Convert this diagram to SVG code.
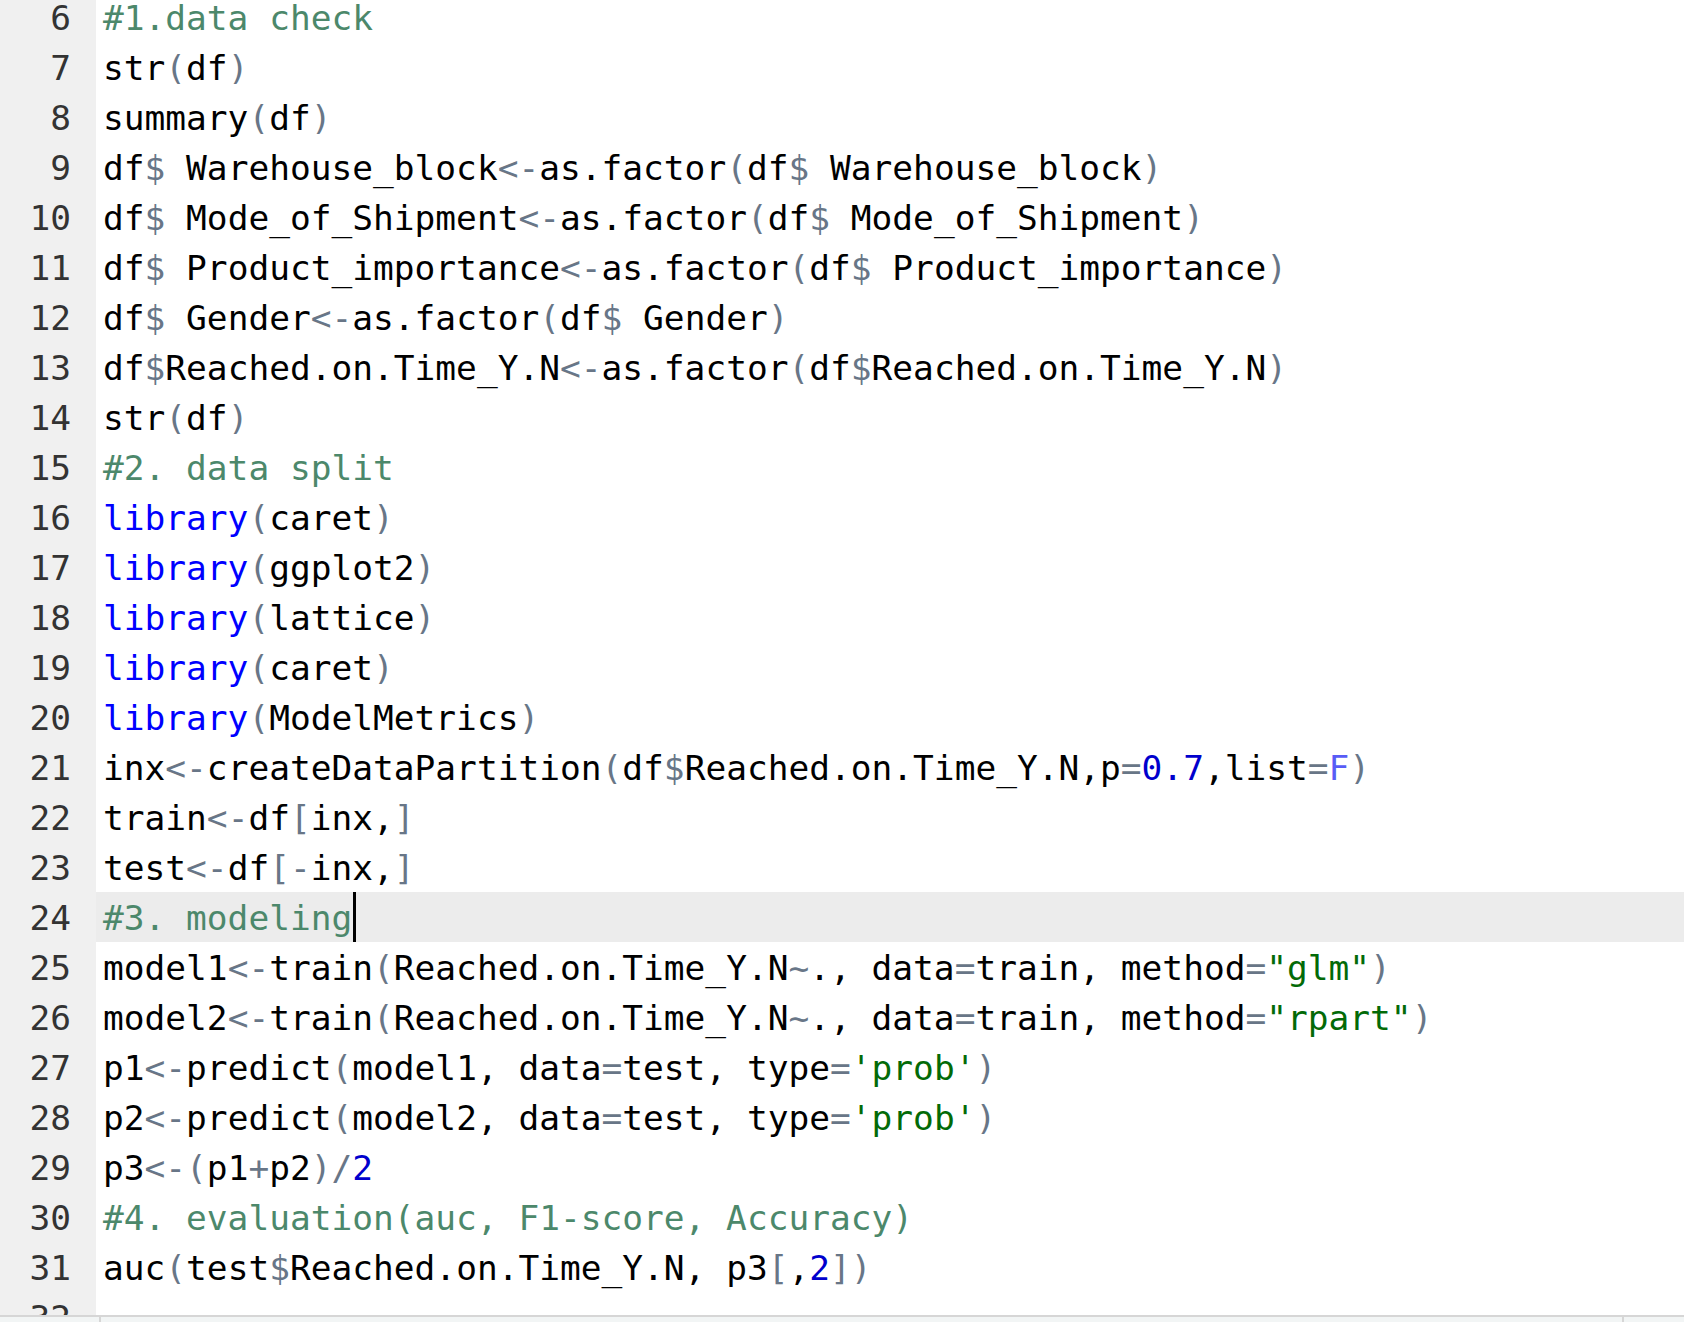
<svg xmlns="http://www.w3.org/2000/svg" width="1684" height="1322" viewBox="0 0 1684 1322">
<style>
text{font-family:"DejaVu Sans Mono","Liberation Mono",monospace;font-size:34.5px;fill:#000;white-space:pre}
.ln{fill:#333;text-anchor:end}
.o{fill:#687687}
.c{fill:#4c886b}
.k{fill:#0000ff}
.n{fill:#0000cd}
.s{fill:#036a07}
.f{fill:#585cf6}
</style>
<defs>
<clipPath id="clip"><rect x="0" y="0" width="1684" height="1315"/></clipPath>
</defs>
<rect x="0" y="0" width="1684" height="1322" fill="#ffffff"/>
<rect id="gutter" x="0" y="0" width="96" height="1315" fill="#f0f0f0"/>
<rect id="activeLine" x="96" y="892" width="1588" height="50" fill="#ececec"/>
<g id="lineNumbers" clip-path="url(#clip)">
<text class="ln" x="71" y="30">6</text>
<text class="ln" x="71" y="80">7</text>
<text class="ln" x="71" y="130">8</text>
<text class="ln" x="71" y="180">9</text>
<text class="ln" x="71" y="230">10</text>
<text class="ln" x="71" y="280">11</text>
<text class="ln" x="71" y="330">12</text>
<text class="ln" x="71" y="380">13</text>
<text class="ln" x="71" y="430">14</text>
<text class="ln" x="71" y="480">15</text>
<text class="ln" x="71" y="530">16</text>
<text class="ln" x="71" y="580">17</text>
<text class="ln" x="71" y="630">18</text>
<text class="ln" x="71" y="680">19</text>
<text class="ln" x="71" y="730">20</text>
<text class="ln" x="71" y="780">21</text>
<text class="ln" x="71" y="830">22</text>
<text class="ln" x="71" y="880">23</text>
<text class="ln" x="71" y="930">24</text>
<text class="ln" x="71" y="980">25</text>
<text class="ln" x="71" y="1030">26</text>
<text class="ln" x="71" y="1080">27</text>
<text class="ln" x="71" y="1130">28</text>
<text class="ln" x="71" y="1180">29</text>
<text class="ln" x="71" y="1230">30</text>
<text class="ln" x="71" y="1280">31</text>
<text class="ln" x="71" y="1330">32</text>
</g>
<g id="code" xml:space="preserve">
<text x="103" y="30"><tspan class="c">#1.data check</tspan></text>
<text x="103" y="80">str<tspan class="o">(</tspan>df<tspan class="o">)</tspan></text>
<text x="103" y="130">summary<tspan class="o">(</tspan>df<tspan class="o">)</tspan></text>
<text x="103" y="180">df<tspan class="o">$</tspan> Warehouse_block<tspan class="o">&lt;-</tspan>as.factor<tspan class="o">(</tspan>df<tspan class="o">$</tspan> Warehouse_block<tspan class="o">)</tspan></text>
<text x="103" y="230">df<tspan class="o">$</tspan> Mode_of_Shipment<tspan class="o">&lt;-</tspan>as.factor<tspan class="o">(</tspan>df<tspan class="o">$</tspan> Mode_of_Shipment<tspan class="o">)</tspan></text>
<text x="103" y="280">df<tspan class="o">$</tspan> Product_importance<tspan class="o">&lt;-</tspan>as.factor<tspan class="o">(</tspan>df<tspan class="o">$</tspan> Product_importance<tspan class="o">)</tspan></text>
<text x="103" y="330">df<tspan class="o">$</tspan> Gender<tspan class="o">&lt;-</tspan>as.factor<tspan class="o">(</tspan>df<tspan class="o">$</tspan> Gender<tspan class="o">)</tspan></text>
<text x="103" y="380">df<tspan class="o">$</tspan>Reached.on.Time_Y.N<tspan class="o">&lt;-</tspan>as.factor<tspan class="o">(</tspan>df<tspan class="o">$</tspan>Reached.on.Time_Y.N<tspan class="o">)</tspan></text>
<text x="103" y="430">str<tspan class="o">(</tspan>df<tspan class="o">)</tspan></text>
<text x="103" y="480"><tspan class="c">#2. data split</tspan></text>
<text x="103" y="530"><tspan class="k">library</tspan><tspan class="o">(</tspan>caret<tspan class="o">)</tspan></text>
<text x="103" y="580"><tspan class="k">library</tspan><tspan class="o">(</tspan>ggplot2<tspan class="o">)</tspan></text>
<text x="103" y="630"><tspan class="k">library</tspan><tspan class="o">(</tspan>lattice<tspan class="o">)</tspan></text>
<text x="103" y="680"><tspan class="k">library</tspan><tspan class="o">(</tspan>caret<tspan class="o">)</tspan></text>
<text x="103" y="730"><tspan class="k">library</tspan><tspan class="o">(</tspan>ModelMetrics<tspan class="o">)</tspan></text>
<text x="103" y="780">inx<tspan class="o">&lt;-</tspan>createDataPartition<tspan class="o">(</tspan>df<tspan class="o">$</tspan>Reached.on.Time_Y.N,p<tspan class="o">=</tspan><tspan class="n">0.7</tspan>,list<tspan class="o">=</tspan><tspan class="f">F</tspan><tspan class="o">)</tspan></text>
<text x="103" y="830">train<tspan class="o">&lt;-</tspan>df<tspan class="o">[</tspan>inx,<tspan class="o">]</tspan></text>
<text x="103" y="880">test<tspan class="o">&lt;-</tspan>df<tspan class="o">[-</tspan>inx,<tspan class="o">]</tspan></text>
<text x="103" y="930"><tspan class="c">#3. modeling</tspan></text>
<text x="103" y="980">model1<tspan class="o">&lt;-</tspan>train<tspan class="o">(</tspan>Reached.on.Time_Y.N<tspan class="o">~</tspan>., data<tspan class="o">=</tspan>train, method<tspan class="o">=</tspan><tspan class="s">"glm"</tspan><tspan class="o">)</tspan></text>
<text x="103" y="1030">model2<tspan class="o">&lt;-</tspan>train<tspan class="o">(</tspan>Reached.on.Time_Y.N<tspan class="o">~</tspan>., data<tspan class="o">=</tspan>train, method<tspan class="o">=</tspan><tspan class="s">"rpart"</tspan><tspan class="o">)</tspan></text>
<text x="103" y="1080">p1<tspan class="o">&lt;-</tspan>predict<tspan class="o">(</tspan>model1, data<tspan class="o">=</tspan>test, type<tspan class="o">=</tspan><tspan class="s">'prob'</tspan><tspan class="o">)</tspan></text>
<text x="103" y="1130">p2<tspan class="o">&lt;-</tspan>predict<tspan class="o">(</tspan>model2, data<tspan class="o">=</tspan>test, type<tspan class="o">=</tspan><tspan class="s">'prob'</tspan><tspan class="o">)</tspan></text>
<text x="103" y="1180">p3<tspan class="o">&lt;-(</tspan>p1<tspan class="o">+</tspan>p2<tspan class="o">)/</tspan><tspan class="n">2</tspan></text>
<text x="103" y="1230"><tspan class="c">#4. evaluation(auc, F1-score, Accuracy)</tspan></text>
<text x="103" y="1280">auc<tspan class="o">(</tspan>test<tspan class="o">$</tspan>Reached.on.Time_Y.N, p3<tspan class="o">[</tspan>,<tspan class="n">2</tspan><tspan class="o">])</tspan></text>
</g>
<rect id="cursor" x="353" y="892" width="3" height="50" fill="#000"/>
<g id="statusBar">
<rect x="0" y="1315" width="1684" height="2" fill="#d6d6d6"/>
<rect x="0" y="1317" width="1684" height="5" fill="#f2f5f5"/>
<rect x="99" y="1317" width="2" height="5" fill="#d6d6d6"/>
<rect x="1622" y="1317" width="2" height="5" fill="#d6d6d6"/>
</g>
</svg>
